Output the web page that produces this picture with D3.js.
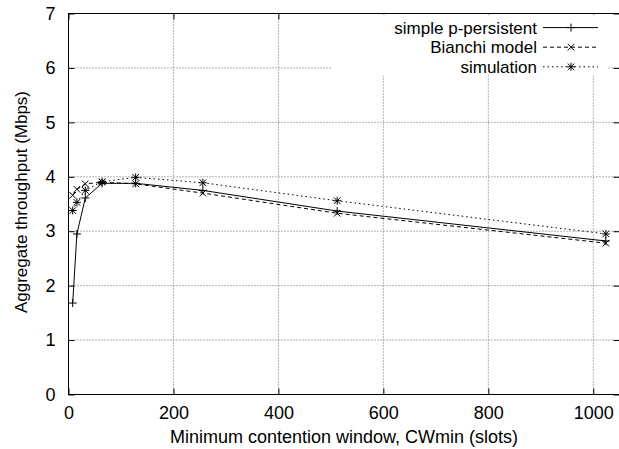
<!DOCTYPE html>
<html><head><meta charset="utf-8">
<script src="https://cdn.jsdelivr.net/npm/d3@7"></script>
<style>body{margin:0;background:#fff}svg{display:block}text{font-family:"Liberation Sans",Arial,sans-serif;fill:#000}</style>
</head><body><svg id="c" width="619" height="449"></svg>
<script>
const cwmin = [8, 16, 32, 64, 128, 256, 512, 1024];
const simplePersistent = [1.68, 2.95, 3.61, 3.88, 3.88, 3.75, 3.37, 2.82];
const bianchi = [3.66, 3.77, 3.87, 3.90, 3.87, 3.70, 3.33, 2.78];
const simulation = [3.38, 3.53, 3.75, 3.91, 3.99, 3.89, 3.56, 2.95];
const xTicks = [0, 200, 400, 600, 800, 1000];
const yTicks = [0, 1, 2, 3, 4, 5, 6, 7];
const seriesNames = ["simple p-persistent", "Bianchi model", "simulation"];

const FONT = "Liberation Sans, Arial, sans-serif";
const svg = d3.select("#c");
const L = 68.5, R = 619.5, T = 13.5, B = 394.5;
const x = d3.scaleLinear().domain([0, 1050]).range([L, R]);
const y = d3.scaleLinear().domain([0, 7]).range([B, T]);

// grid
const g = svg.append("g");
xTicks.filter(d => d > 0).forEach(d => {
  g.append("line").attr("x1", x(d)).attr("x2", x(d)).attr("y1", B).attr("y2", T)
    .attr("stroke", "#666").attr("stroke-width", 1).attr("stroke-dasharray", "1,2");
});
yTicks.filter(d => d > 0 && d < 7).forEach(d => {
  g.append("line").attr("x1", L).attr("x2", R).attr("y1", y(d)).attr("y2", y(d))
    .attr("stroke", "#666").attr("stroke-width", 1).attr("stroke-dasharray", "1,2");
});

// axes with inward ticks, all four sides
const tl = 6;
svg.append("g").attr("transform", `translate(0,${B})`)
  .call(d3.axisBottom(x).tickValues(xTicks).tickSize(-tl).tickPadding(tl + 6).tickFormat(d3.format("d")))
  .call(a => { a.select(".domain").remove(); a.selectAll("text").attr("font-size", 18).attr("font-family", FONT); });
svg.append("g").attr("transform", `translate(0,${T})`)
  .call(d3.axisTop(x).tickValues(xTicks).tickSize(-tl).tickFormat(""))
  .call(a => a.select(".domain").remove());
svg.append("g").attr("transform", `translate(${L},0)`)
  .call(d3.axisLeft(y).tickValues(yTicks).tickSize(-tl).tickPadding(tl + 7).tickFormat(d3.format("d")))
  .call(a => { a.select(".domain").remove(); a.selectAll("text").attr("font-size", 18).attr("font-family", FONT); });
svg.append("g").attr("transform", `translate(${R},0)`)
  .call(d3.axisRight(y).tickValues(yTicks).tickSize(-tl).tickFormat(""))
  .call(a => a.select(".domain").remove());
svg.append("rect").attr("x", L).attr("y", T).attr("width", R - L).attr("height", B - T)
  .attr("fill", "none").attr("stroke", "#000").attr("stroke-width", 1);

// legend background
svg.append("rect").attr("x", 332).attr("y", T + 1).attr("width", 276).attr("height", 61).attr("fill", "#fff");

// markers
function marker(sel, type, cx, cy) {
  const s = 4;
  if (type === "plus" || type === "star") {
    sel.append("line").attr("x1", cx - s).attr("x2", cx + s).attr("y1", cy).attr("y2", cy);
    sel.append("line").attr("x1", cx).attr("x2", cx).attr("y1", cy - s).attr("y2", cy + s);
  }
  if (type === "cross" || type === "star") {
    const c = 3.3;
    sel.append("line").attr("x1", cx - c).attr("x2", cx + c).attr("y1", cy - c).attr("y2", cy + c);
    sel.append("line").attr("x1", cx - c).attr("x2", cx + c).attr("y1", cy + c).attr("y2", cy - c);
  }
}

const series = [
  { name: seriesNames[0], vals: simplePersistent, dash: null, m: "plus" },
  { name: seriesNames[1], vals: bianchi, dash: "4,3", m: "cross" },
  { name: seriesNames[2], vals: simulation, dash: "1.5,3", m: "star" }
];
const line = d3.line().x(d => x(d[0])).y(d => y(d[1]));
series.forEach(s => {
  const pts = cwmin.map((c, i) => [c, s.vals[i]]);
  svg.append("path").datum(pts).attr("d", line).attr("fill", "none").attr("stroke", "#000")
    .attr("stroke-width", 1).attr("stroke-dasharray", s.dash);
  const mg = svg.append("g").attr("stroke", "#000").attr("stroke-width", 1);
  pts.forEach(p => marker(mg, s.m, x(p[0]), y(p[1])));
});

// legend
series.forEach((s, i) => {
  const ly = 27.6 + i * 19.6;
  svg.append("text").attr("x", 537).attr("y", ly).attr("dy", "0.35em").attr("text-anchor", "end")
    .attr("font-size", 17).text(s.name);
  svg.append("line").attr("x1", 543).attr("x2", 598).attr("y1", ly).attr("y2", ly)
    .attr("stroke", "#000").attr("stroke-width", 1).attr("stroke-dasharray", s.dash);
  const mg = svg.append("g").attr("stroke", "#000").attr("stroke-width", 1);
  marker(mg, s.m, 571, ly);
});

// axis titles
svg.append("text").attr("x", 344).attr("y", 443).attr("text-anchor", "middle")
  .attr("font-size", 18).text("Minimum contention window, CWmin (slots)");
svg.append("text").attr("transform", `translate(21,202) rotate(-90)`).attr("text-anchor", "middle")
  .attr("dy", "0.35em").attr("font-size", 17).text("Aggregate throughput (Mbps)");
</script></body></html>
